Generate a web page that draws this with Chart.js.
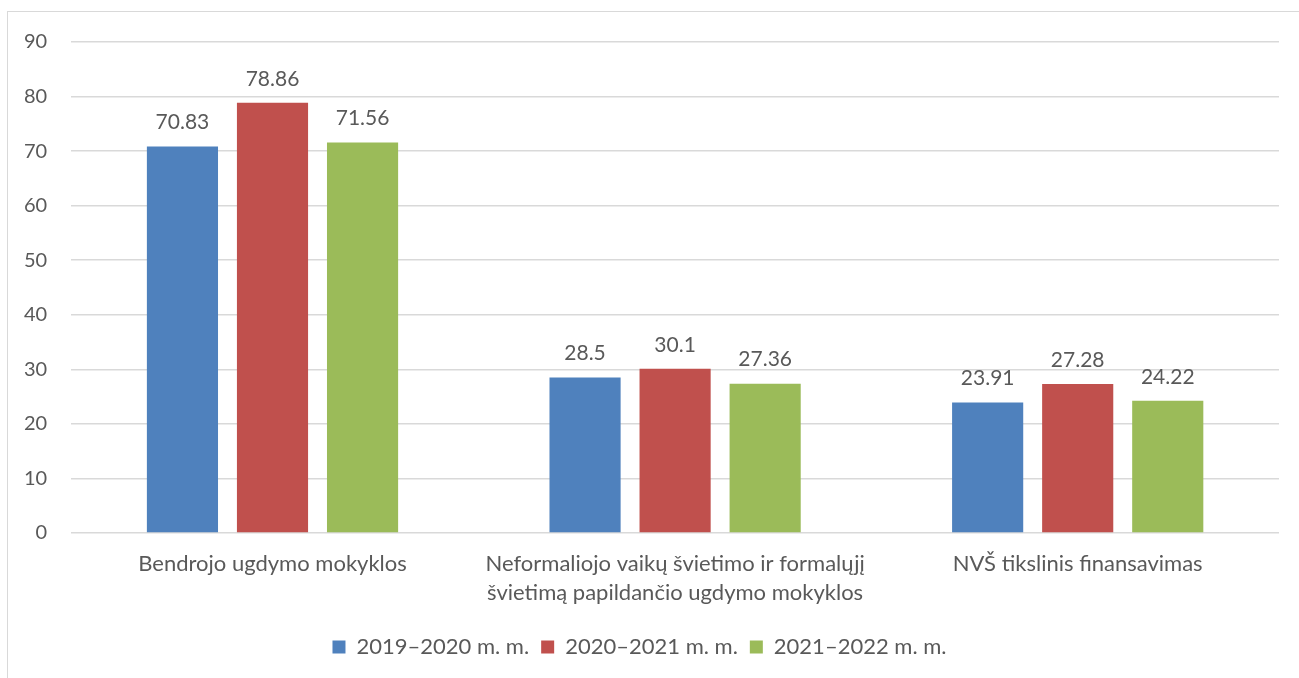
<!DOCTYPE html>
<html>
<head>
<meta charset="utf-8">
<script src="https://cdn.jsdelivr.net/npm/chart.js@4"></script>
<style>
  body { margin: 0; background: #fff; }
  #wrap { position: relative; width: 1299px; height: 678px; overflow: hidden; }
  #frame { position: absolute; left: 7px; top: 11px; width: 1300px; height: 700px; border: 1px solid #d9d9d9; }
  canvas { position: absolute; left: 0; top: 0; }
</style>
</head>
<body>
<div id="wrap">
  <div id="frame"></div>
  <canvas id="myChart" width="1299" height="678"></canvas>
</div>
<script>
// categories (multi-line labels as arrays)
const categories = [
  'Bendrojo ugdymo mokyklos',
  ['Neformaliojo vaikų švietimo ir formalųjį', 'švietimą papildančio ugdymo mokyklos'],
  'NVŠ tikslinis finansavimas'
];
const seriesNames = ['2019–2020 m. m.', '2020–2021 m. m.', '2021–2022 m. m.'];
const values2019 = [70.83, 28.5, 23.91];
const values2020 = [78.86, 30.1, 27.28];
const values2021 = [71.56, 27.36, 24.22];

const textColor = '#595959';
const fontFam = 'Lato, "Open Sans", sans-serif';

// draw value above each bar
const valueLabels = {
  id: 'valueLabels',
  afterDatasetsDraw(chart) {
    const ctx = chart.ctx;
    ctx.save();
    ctx.font = '21px ' + fontFam;
    ctx.fillStyle = textColor;
    ctx.textAlign = 'center';
    ctx.textBaseline = 'middle';
    chart.data.datasets.forEach((ds, i) => {
      chart.getDatasetMeta(i).data.forEach((bar, j) => {
        ctx.fillText(String(ds.data[j]), bar.x, bar.y - 24);
      });
    });
    ctx.restore();
  }
};

const ctx = document.getElementById('myChart').getContext('2d');
const myChart = new Chart(ctx, {
  type: 'bar',
  data: {
    labels: categories,
    datasets: [
      { label: seriesNames[0], data: values2019, backgroundColor: '#4F81BD' },
      { label: seriesNames[1], data: values2020, backgroundColor: '#C0504D' },
      { label: seriesNames[2], data: values2021, backgroundColor: '#9BBB59' }
    ]
  },
  options: {
    responsive: false,
    animation: false,
    categoryPercentage: 0.671,
    barPercentage: 0.79,
    layout: { padding: { left: 0, right: 20, top: 42, bottom: 10 } },
    plugins: {
      tooltip: { enabled: false },
      legend: {
        position: 'bottom',
        labels: {
          color: textColor,
          font: { family: fontFam, size: 22 },
          boxWidth: 13,
          boxHeight: 13,
          padding: 12
        }
      }
    },
    scales: {
      x: {
        grid: { display: false, drawTicks: false },
        border: { display: false },
        ticks: {
          color: textColor,
          font: { family: fontFam, size: 22, lineHeight: 1.32 },
          padding: 16,
          maxRotation: 0,
          autoSkip: false
        },
        afterFit(scale) { scale.height += 1; }
      },
      y: {
        min: 0,
        max: 90,
        grid: { color: '#d9d9d9', lineWidth: 1.5, drawTicks: false },
        border: { display: false },
        ticks: {
          stepSize: 10,
          color: textColor,
          font: { family: fontFam, size: 20 },
          padding: 24
        }
      }
    }
  },
  plugins: [valueLabels]
});
</script>
</body>
</html>
